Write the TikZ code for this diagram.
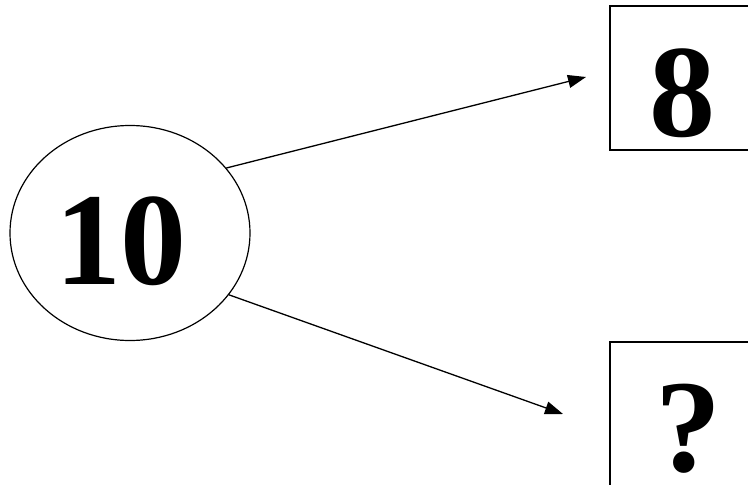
\documentclass[tikz,border=0pt]{standalone}
\usepackage{fontspec}
\setmainfont{Liberation Serif}
\usetikzlibrary{arrows.meta,shapes.geometric}

\begin{document}
\begin{tikzpicture}[
  x=1pt, y=-1pt,
  box/.style={draw, line width=1.6pt, inner sep=0pt, outer sep=0pt, anchor=north west,
    minimum height=144pt},
  oval/.style={draw, ellipse, line width=1.2pt, inner sep=0pt, minimum width=240pt, minimum height=215pt},
  num/.style={font=\fontsize{132}{132}\selectfont\bfseries, inner sep=0pt},
  arr/.style={-{Triangle[length=18pt,width=13pt]}, line width=1.3pt}
]
\useasboundingbox (0,0) rectangle (748,485);

\node[oval] (ten) at (130,233) {};
\node[num] (tenlbl) at (121,241) {10};

\node[box, minimum width=144pt] (eight) at (610,6) {};
\node[num] (eightlbl) at (682,93) {8};
\node[box, minimum width=156pt] (ask) at (610,342) {};
\node[num] (asklbl) at (688,429) {?};

\coordinate (tipa) at (586,77);
\coordinate (tipb) at (563,414);

\draw[arr] (ten.34) -- (tipa);
\draw[arr] (ten.-32) -- (tipb);
\end{tikzpicture}
\end{document}
